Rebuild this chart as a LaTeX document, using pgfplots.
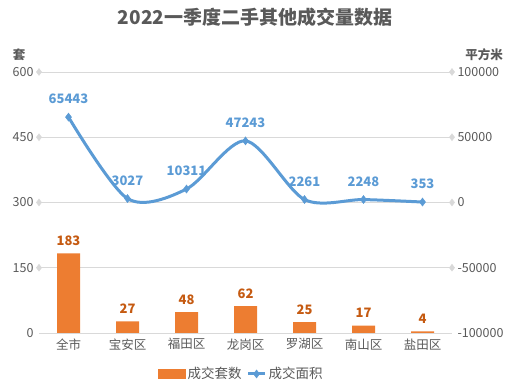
\documentclass[border=0pt]{standalone}
\usepackage{pgfplots}
\pgfplotsset{compat=1.18}
\usepackage{fontspec}
\setmainfont{Noto Sans CJK SC}
\definecolor{barc}{HTML}{ED7D31}
\definecolor{barlab}{HTML}{C55A11}
\definecolor{linec}{HTML}{5B9BD5}
\definecolor{gridc}{HTML}{D9D9D9}
\definecolor{txt}{HTML}{595959}
\begin{document}
\begin{tikzpicture}[x=1pt,y=1pt]
\useasboundingbox (0,0) rectangle (512,388);
\node[font=\bfseries\fontsize{19}{20}\selectfont, text=txt] at (255,371) {2022一季度二手其他成交量数据};
\node[font=\bfseries\fontsize{12.5}{13}\selectfont, text=txt] at (19,333) {套};
\node[font=\bfseries\fontsize{12.5}{13}\selectfont, text=txt] at (484,333) {平方米};
\begin{axis}[
  at={(39pt,55pt)}, anchor=south west,
  width=413pt, height=261pt, scale only axis,
  xmin=-0.5, xmax=6.5, ymin=0, ymax=600,
  ytick={0,150,...,600},
  xtick={0,...,6},
  xticklabels={全市,宝安区,福田区,龙岗区,罗湖区,南山区,盐田区},
  axis line style={draw=none}, major tick style={draw=none},
  ymajorgrids, grid style={gridc, line width=0.9pt},
  tick label style={font=\fontsize{12.5}{13}\selectfont, text=txt},
  /pgf/number format/assume math mode=true,
  yticklabel style={xshift=-2pt},
  xticklabel style={yshift=-2pt},
  clip=false,
]
\addplot[ybar, bar width=23pt, fill=barc, draw=none,
  nodes near coords,
  every node near coord/.append style={font=\bfseries\fontsize{13}{13}\selectfont, text=barlab, anchor=center, yshift=12.5pt}]
  coordinates {(0,183) (1,27) (2,48) (3,62) (4,25) (5,17) (6,4)};
\addplot[only marks, mark=diamond*, mark size=3.5pt, color=gridc, forget plot]
  coordinates {(-0.5,150) (6.5,150) (-0.5,300) (6.5,300) (-0.5,450) (6.5,450) (-0.5,600) (6.5,600)};
\end{axis}
\begin{axis}[
  at={(39pt,55pt)}, anchor=south west,
  width=413pt, height=261pt, scale only axis,
  xmin=-0.5, xmax=6.5, ymin=-100000, ymax=100000,
  ytick={-100000,-50000,...,100000},
  axis y line*=right, hide x axis,
  axis line style={draw=none}, major tick style={draw=none},
  scaled y ticks=false,
  /pgf/number format/fixed, /pgf/number format/1000 sep={},
  /pgf/number format/assume math mode=true,
  tick label style={font=\fontsize{12.5}{13}\selectfont, text=txt},
  yticklabel style={xshift=2pt},
  clip=false,
  legend columns=2,
  legend style={at={(0.49,-0.157)}, anchor=center, draw=none, fill=none,
    font=\fontsize{13.5}{14}\selectfont, text=txt,
    /tikz/every even column/.append style={column sep=3pt}},
]
\addlegendimage{legend image code/.code={\fill[barc] (0pt,-4.5pt) rectangle (27pt,4.5pt);}}
\addlegendentry{成交套数}
\addplot[smooth, tension=0.5, color=linec, line width=3pt, mark=diamond*, mark size=4pt,
  mark options={fill=linec, line width=0.5pt},
  nodes near coords,
  every node near coord/.append style={font=\bfseries\fontsize{13}{13}\selectfont, text=linec, anchor=center, yshift=18pt}]
  coordinates {(0,65443) (1,3027) (2,10311) (3,47243) (4,2261) (5,2248) (6,353)};
\addlegendentry{成交面积}
\end{axis}
\end{tikzpicture}
\end{document}
